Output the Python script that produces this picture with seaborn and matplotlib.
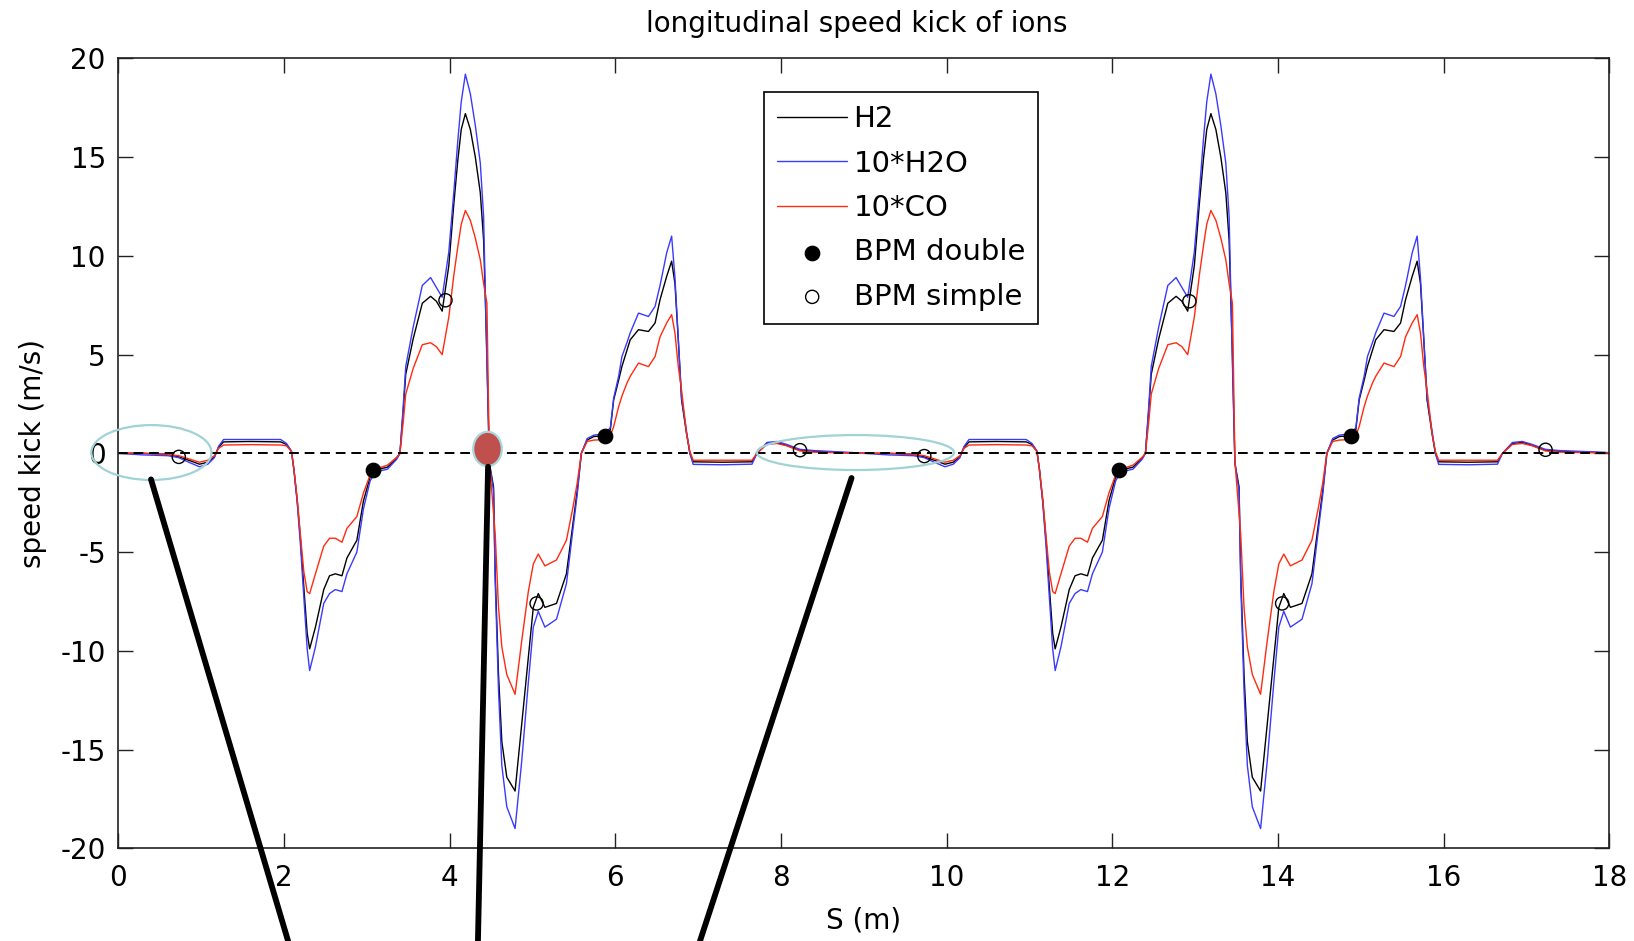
import matplotlib
matplotlib.use("Agg")
import matplotlib.pyplot as plt
import seaborn as sns
from matplotlib.patches import Ellipse, ConnectionPatch

# ---- data (two identical cells of the ring) ----
s_cell1 = [0.00, 0.30, 0.60, 0.73, 0.85, 0.98, 1.08, 1.16, 1.21, 1.27,
           1.60, 1.96, 2.03, 2.09, 2.12, 2.16, 2.20, 2.24, 2.28, 2.31,
           2.38, 2.48, 2.55, 2.62, 2.70, 2.76, 2.88, 2.96, 3.04, 3.10,
           3.25, 3.36, 3.40, 3.44, 3.47, 3.56, 3.67, 3.77, 3.84, 3.91,
           3.99, 4.05, 4.10, 4.14, 4.19, 4.25, 4.31, 4.37, 4.41, 4.45,
           4.48, 4.53, 4.55, 4.59, 4.63, 4.69, 4.79, 4.87, 4.95, 5.01,
           5.07, 5.15, 5.29, 5.41, 5.49, 5.54, 5.59, 5.66, 5.74, 5.88,
           5.94, 5.98, 6.04, 6.08, 6.14, 6.18, 6.28, 6.40, 6.48, 6.54,
           6.62, 6.68, 6.72, 6.76, 6.80, 6.86, 6.90, 6.94, 7.30, 7.65,
           7.71, 7.83, 7.95, 8.07, 8.23, 8.40, 8.95]
s_cell2 = [9.00, 9.30, 9.60, 9.73, 9.85, 9.98, 10.08, 10.16, 10.21, 10.27,
           10.60, 10.96, 11.03, 11.09, 11.12, 11.16, 11.20, 11.24, 11.28, 11.31,
           11.38, 11.48, 11.55, 11.62, 11.70, 11.76, 11.88, 11.96, 12.04, 12.10,
           12.25, 12.36, 12.40, 12.44, 12.47, 12.56, 12.67, 12.77, 12.84, 12.91,
           12.99, 13.05, 13.10, 13.14, 13.19, 13.25, 13.31, 13.37, 13.41, 13.45,
           13.48, 13.53, 13.55, 13.59, 13.63, 13.69, 13.79, 13.87, 13.95, 14.01,
           14.07, 14.15, 14.29, 14.41, 14.49, 14.54, 14.59, 14.66, 14.74, 14.88,
           14.94, 14.98, 15.04, 15.08, 15.14, 15.18, 15.28, 15.40, 15.48, 15.54,
           15.62, 15.68, 15.72, 15.76, 15.80, 15.86, 15.90, 15.94, 16.30, 16.65,
           16.71, 16.83, 16.95, 17.07, 17.23, 17.40, 17.95, 18.00]

h2_cell1 = [0.00, 0.00, -0.05, -0.18, -0.35, -0.55, -0.45, -0.18, 0.30, 0.58,
            0.60, 0.58, 0.45, 0.10, -0.80, -2.40, -4.40, -6.80, -9.10, -9.90,
            -8.80, -6.90, -6.20, -6.10, -6.20, -5.30, -4.40, -2.40, -1.20, -0.85,
            -0.70, -0.25, 0.00, 2.20, 4.00, 5.80, 7.60, 7.95, 7.70, 7.20,
            9.50, 12.60, 14.90, 16.40, 17.20, 16.40, 15.00, 13.20, 10.80, 5.00,
            -0.50, -1.70, -6.10, -11.20, -14.60, -16.40, -17.10, -13.70, -10.30, -7.80,
            -7.10, -7.80, -7.60, -6.10, -3.50, -1.90, 0.00, 0.67, 0.85, 0.90,
            1.20, 2.70, 3.70, 4.40, 5.20, 5.75, 6.26, 6.17, 6.60, 7.78,
            8.96, 9.73, 8.60, 5.75, 2.70, 1.00, 0.00, -0.43, -0.45, -0.43,
            0.00, 0.50, 0.55, 0.40, 0.16, 0.10, 0.00]
h2_cell2 = [0.00, 0.00, -0.05, -0.18, -0.35, -0.55, -0.45, -0.18, 0.30, 0.58,
            0.60, 0.58, 0.45, 0.10, -0.80, -2.40, -4.40, -6.80, -9.10, -9.90,
            -8.80, -6.90, -6.20, -6.10, -6.20, -5.30, -4.40, -2.40, -1.20, -0.85,
            -0.70, -0.25, 0.00, 2.20, 4.00, 5.80, 7.60, 7.95, 7.70, 7.20,
            9.50, 12.60, 14.90, 16.40, 17.20, 16.40, 15.00, 13.20, 10.80, 5.00,
            -0.50, -1.70, -6.10, -11.20, -14.60, -16.40, -17.10, -13.70, -10.30, -7.80,
            -7.10, -7.80, -7.60, -6.10, -3.50, -1.90, 0.00, 0.67, 0.85, 0.90,
            1.20, 2.70, 3.70, 4.40, 5.20, 5.75, 6.26, 6.17, 6.60, 7.78,
            8.96, 9.73, 8.60, 5.75, 2.70, 1.00, 0.00, -0.43, -0.45, -0.43,
            0.00, 0.50, 0.55, 0.40, 0.16, 0.10, 0.03, 0.02]

h2o_cell1 = [0.00, -0.08, -0.12, -0.22, -0.45, -0.68, -0.55, -0.22, 0.35, 0.70,
             0.70, 0.70, 0.50, 0.12, -0.85, -2.50, -4.70, -7.30, -9.90, -11.00,
             -9.80, -7.60, -7.10, -6.90, -7.00, -6.10, -5.00, -2.80, -1.40, -0.95,
             -0.80, -0.30, 0.00, 2.40, 4.40, 6.40, 8.50, 8.90, 8.40, 7.90,
             10.20, 13.20, 15.90, 17.80, 19.20, 18.20, 16.60, 14.70, 12.00, 4.50,
             -0.50, -1.90, -6.50, -12.00, -15.80, -17.90, -19.00, -15.60, -11.60, -8.80,
             -8.00, -8.80, -8.40, -6.60, -3.80, -2.10, 0.00, 0.75, 0.92, 1.00,
             1.30, 2.80, 3.90, 4.90, 5.60, 6.10, 7.10, 6.93, 7.44, 8.50,
             10.15, 11.00, 8.90, 5.90, 2.80, 1.10, 0.00, -0.56, -0.58, -0.55,
             0.00, 0.55, 0.60, 0.45, 0.20, 0.14, 0.02]
h2o_cell2 = [0.00, -0.08, -0.12, -0.22, -0.45, -0.68, -0.55, -0.22, 0.35, 0.70,
             0.70, 0.70, 0.50, 0.12, -0.85, -2.50, -4.70, -7.30, -9.90, -11.00,
             -9.80, -7.60, -7.10, -6.90, -7.00, -6.10, -5.00, -2.80, -1.40, -0.95,
             -0.80, -0.30, 0.00, 2.40, 4.40, 6.40, 8.50, 8.90, 8.40, 7.90,
             10.20, 13.20, 15.90, 17.80, 19.20, 18.20, 16.60, 14.70, 12.00, 4.50,
             -0.50, -1.90, -6.50, -12.00, -15.80, -17.90, -19.00, -15.60, -11.60, -8.80,
             -8.00, -8.80, -8.40, -6.60, -3.80, -2.10, 0.00, 0.75, 0.92, 1.00,
             1.30, 2.80, 3.90, 4.90, 5.60, 6.10, 7.10, 6.93, 7.44, 8.50,
             10.15, 11.00, 8.90, 5.90, 2.80, 1.10, 0.00, -0.56, -0.58, -0.55,
             0.00, 0.55, 0.60, 0.45, 0.20, 0.14, 0.05, 0.03]

co_cell1 = [0.00, 0.00, -0.05, -0.12, -0.28, -0.45, -0.35, -0.12, 0.25, 0.42,
            0.44, 0.42, 0.38, 0.10, -0.80, -2.30, -4.20, -6.00, -7.00, -7.10,
            -6.10, -4.70, -4.30, -4.30, -4.50, -3.80, -3.20, -2.00, -1.10, -0.80,
            -0.60, -0.20, 0.00, 1.60, 3.00, 4.30, 5.50, 5.60, 5.40, 5.00,
            6.90, 9.00, 10.50, 11.60, 12.30, 11.80, 10.90, 9.80, 8.60, 7.60,
            -0.40, -3.00, -4.10, -7.80, -9.80, -11.20, -12.20, -9.50, -7.00, -5.60,
            -5.10, -5.70, -5.40, -4.40, -2.70, -1.50, 0.00, 0.60, 0.67, 0.70,
            0.90, 1.35, 2.36, 2.90, 3.55, 3.90, 4.57, 4.39, 4.90, 5.90,
            6.60, 7.02, 6.10, 4.40, 3.20, 1.00, 0.10, -0.35, -0.35, -0.35,
            0.00, 0.45, 0.50, 0.38, 0.12, 0.06, 0.00]
co_cell2 = [0.00, 0.00, -0.05, -0.12, -0.28, -0.45, -0.35, -0.12, 0.25, 0.42,
            0.44, 0.42, 0.38, 0.10, -0.80, -2.30, -4.20, -6.00, -7.00, -7.10,
            -6.10, -4.70, -4.30, -4.30, -4.50, -3.80, -3.20, -2.00, -1.10, -0.80,
            -0.60, -0.20, 0.00, 1.60, 3.00, 4.30, 5.50, 5.60, 5.40, 5.00,
            6.90, 9.00, 10.50, 11.60, 12.30, 11.80, 10.90, 9.80, 8.60, 7.60,
            -0.40, -3.00, -4.10, -7.80, -9.80, -11.20, -12.20, -9.50, -7.00, -5.60,
            -5.10, -5.70, -5.40, -4.40, -2.70, -1.50, 0.00, 0.60, 0.67, 0.70,
            0.90, 1.35, 2.36, 2.90, 3.55, 3.90, 4.57, 4.39, 4.90, 5.90,
            6.60, 7.02, 6.10, 4.40, 3.20, 1.00, 0.10, -0.35, -0.35, -0.35,
            0.00, 0.45, 0.50, 0.38, 0.12, 0.06, 0.02, 0.01]

bpm_double_s = [3.08, 5.88, 12.08, 14.88]
bpm_double_kick = [-0.85, 0.90, -0.85, 0.90]
bpm_simple_s = [0.73, 3.95, 5.05, 8.23, 9.73, 12.93, 14.05, 17.23]
bpm_simple_kick = [-0.18, 7.75, -7.60, 0.16, -0.14, 7.70, -7.60, 0.18]

# hand-drawn markings on top of the plot
ring_s = [0.40, 8.90]
ring_kick = [0.04, 0.04]
ring_w = [1.45, 2.38]
ring_h = [2.78, 1.77]
dot_s, dot_kick, dot_w, dot_h = 4.457, 0.22, 0.345, 1.74
pointer_s = [0.395, 4.464, 8.852]
pointer_kick = [-1.32, -0.68, -1.25]
pointer_foot = [0.1763, 0.2925, 0.4284]   # x (figure fraction) at bottom edge

s_m = s_cell1 + s_cell2
kick_h2 = h2_cell1 + h2_cell2
kick_h2o = h2o_cell1 + h2o_cell2
kick_co = co_cell1 + co_cell2
assert len(s_m) == len(kick_h2) == len(kick_h2o) == len(kick_co)

sns.set_theme(style="white")
plt.rcParams.update({
    "axes.unicode_minus": False,
    "font.size": 20,
    "text.color": "black",
    "axes.labelcolor": "black",
    "axes.edgecolor": "#222222",
    "axes.linewidth": 1.2,
    "xtick.color": "#222222",
    "ytick.color": "#222222",
    "xtick.labelcolor": "black",
    "ytick.labelcolor": "black",
    "xtick.direction": "in",
    "ytick.direction": "in",
    "xtick.bottom": True,
    "xtick.top": True,
    "ytick.left": True,
    "ytick.right": True,
    "xtick.major.size": 11,
    "ytick.major.size": 11,
    "xtick.major.width": 1.0,
    "ytick.major.width": 1.0,
    "xtick.major.pad": 11,
    "ytick.major.pad": 9,
    "xtick.labelsize": 20,
    "ytick.labelsize": 20,
})
plt.rcParams["font.family"] = ["DejaVu Sans"]

fig = plt.figure(figsize=(16.34, 9.41), dpi=100)
ax = fig.add_axes([0.0724, 0.0985, 0.9125, 0.8395])

sns.lineplot(x=s_m, y=kick_h2, color="black", lw=1.0, label="H2",
             estimator=None, sort=False, ax=ax)
sns.lineplot(x=s_m, y=kick_h2o, color="#3a3aff", lw=1.0, label="10*H2O",
             estimator=None, sort=False, ax=ax)
sns.lineplot(x=s_m, y=kick_co, color="#ff2a10", lw=1.0, label="10*CO",
             estimator=None, sort=False, ax=ax)
ax.axhline(0, color="black", lw=1.4, ls=(0, (5, 3)), zorder=2.5)
sns.scatterplot(x=bpm_double_s, y=bpm_double_kick, color="black",
                edgecolor="black", s=110, label="BPM double", zorder=3, ax=ax)
sns.scatterplot(x=bpm_simple_s, y=bpm_simple_kick, color="black",
                facecolor="none", edgecolor="black", linewidth=1.0, s=90,
                label="BPM simple", zorder=3, ax=ax)

ax.set_xlim(0, 18)
ax.set_ylim(-20, 20)
ax.set_xticks(range(0, 19, 2))
ax.set_yticks(range(-20, 21, 5))
ax.set_title("longitudinal speed kick of ions", fontsize=20, pad=19, x=0.495)
ax.set_xlabel("S (m)", fontsize=20, labelpad=11)
ax.set_ylabel("speed kick (m/s)", fontsize=20, labelpad=10)

leg = ax.legend(loc="upper left", bbox_to_anchor=(0.4331, 0.9573),
                borderaxespad=0, frameon=True, fancybox=False,
                edgecolor="black", framealpha=1, fontsize=21,
                handlelength=2.4, handletextpad=0.22, labelspacing=0.56,
                borderpad=0.45, scatterpoints=1)
leg.get_frame().set_linewidth(1.2)

# cyan rings, red dot and the black pointer lines
for cx, cy, w, h in zip(ring_s, ring_kick, ring_w, ring_h):
    ax.add_patch(Ellipse((cx, cy), w, h, fill=False, edgecolor="#a0d2d6",
                         lw=1.6, zorder=4, clip_on=False))
ax.add_patch(Ellipse((dot_s, dot_kick), dot_w, dot_h, facecolor="#c0504d",
                     edgecolor="#a8d8dc", lw=1.6, zorder=5, clip_on=False))
for ps, pk, fx in zip(pointer_s, pointer_kick, pointer_foot):
    con = ConnectionPatch(xyA=(ps, pk), coordsA="data", axesA=ax,
                          xyB=(fx, 0.0), coordsB="figure fraction",
                          color="black", lw=4.2, zorder=6)
    con.set_clip_on(False)
    fig.add_artist(con)

fig.savefig("out.png", dpi=100)
